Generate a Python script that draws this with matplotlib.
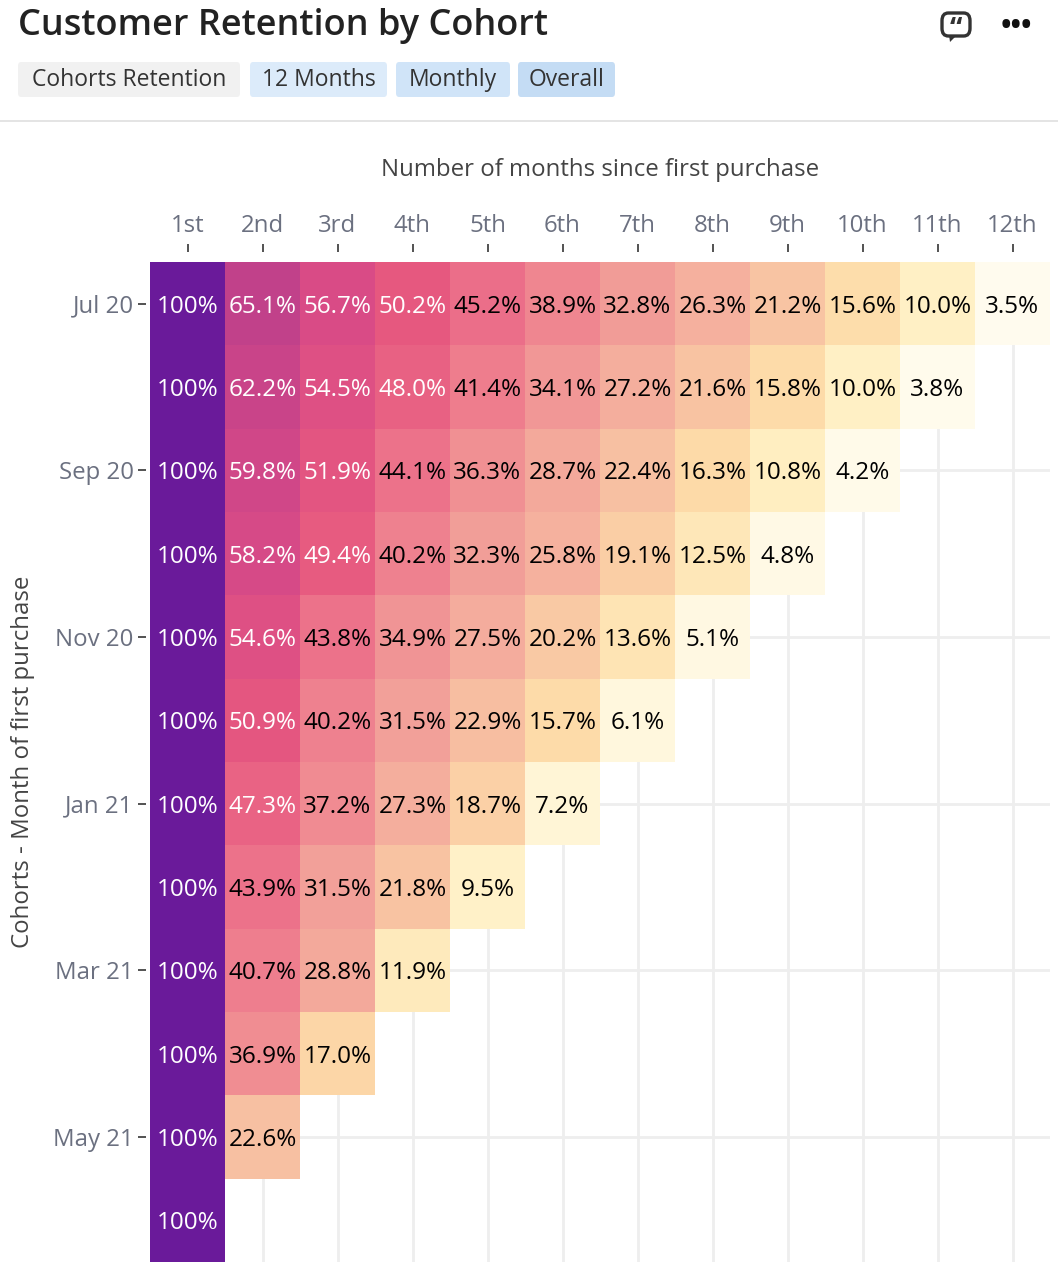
import numpy as np
import matplotlib.pyplot as plt
from matplotlib.colors import LinearSegmentedColormap
from matplotlib.patches import FancyBboxPatch, Rectangle, Polygon

plt.rcParams['font.family'] = ['Open Sans', 'DejaVu Sans']

# cohort labels and retention values (%)
cohorts = ["Jul 20", "Aug 20", "Sep 20", "Oct 20", "Nov 20", "Dec 20",
           "Jan 21", "Feb 21", "Mar 21", "Apr 21", "May 21", "Jun 21"]
months = ["1st", "2nd", "3rd", "4th", "5th", "6th",
          "7th", "8th", "9th", "10th", "11th", "12th"]

jul20 = [100, 65.1, 56.7, 50.2, 45.2, 38.9, 32.8, 26.3, 21.2, 15.6, 10.0, 3.5]
aug20 = [100, 62.2, 54.5, 48.0, 41.4, 34.1, 27.2, 21.6, 15.8, 10.0, 3.8]
sep20 = [100, 59.8, 51.9, 44.1, 36.3, 28.7, 22.4, 16.3, 10.8, 4.2]
oct20 = [100, 58.2, 49.4, 40.2, 32.3, 25.8, 19.1, 12.5, 4.8]
nov20 = [100, 54.6, 43.8, 34.9, 27.5, 20.2, 13.6, 5.1]
dec20 = [100, 50.9, 40.2, 31.5, 22.9, 15.7, 6.1]
jan21 = [100, 47.3, 37.2, 27.3, 18.7, 7.2]
feb21 = [100, 43.9, 31.5, 21.8, 9.5]
mar21 = [100, 40.7, 28.8, 11.9]
apr21 = [100, 36.9, 17.0]
may21 = [100, 22.6]
jun21 = [100]

rows = [jul20, aug20, sep20, oct20, nov20, dec20,
        jan21, feb21, mar21, apr21, may21, jun21]

n = len(months)
grid = np.full((len(rows), n), np.nan)
for i, r in enumerate(rows):
    grid[i, :len(r)] = r
data = np.ma.masked_invalid(grid)

# colour ramp sampled off the reference cells
cmap = LinearSegmentedColormap.from_list("retention", [
    (0.00, "#ffffff"), (0.035, "#fffbec"), (0.10, "#fff0c4"),
    (0.16, "#fddaa8"), (0.21, "#f8c5a3"), (0.26, "#f5b19e"),
    (0.33, "#f19b97"), (0.39, "#ef8590"), (0.45, "#eb6e89"),
    (0.50, "#e6587f"), (0.57, "#d94b86"), (0.65, "#c1418a"),
    (1.00, "#6a1a9a")])

W, H = 1058, 1282
fig = plt.figure(figsize=(W / 100, H / 100), dpi=100)

def fx(px):
    return px / W

def fy(py):
    return 1 - py / H

# header
fig.text(fx(18), fy(26), "Customer Retention by Cohort",
         fontsize=26, fontweight="semibold", color="#222222", va="center")
tags = [("Cohorts Retention", 18, 240, "#f1f1f1"),
        ("12 Months", 250, 387, "#dcebfa"),
        ("Monthly", 396, 510, "#d0e4f8"),
        ("Overall", 518, 615, "#c4dcf4")]
for label, x0, x1, bg in tags:
    fig.patches.append(FancyBboxPatch(
        (fx(x0), fy(97)), (x1 - x0) / W, 35 / H,
        boxstyle="round,pad=0,rounding_size=0.003", transform=fig.transFigure,
        facecolor=bg, edgecolor="none"))
    fig.text(fx((x0 + x1) / 2), fy(80), label, fontsize=16.5,
             color="#333333", ha="center", va="center")
fig.patches.append(Rectangle((0, fy(122)), 1, 2 / H,
                             transform=fig.transFigure, facecolor="#e4e4e4",
                             edgecolor="none"))

# icons top right
fig.patches.append(FancyBboxPatch(
    (fx(942), fy(36)), 28 / W, 23 / H,
    boxstyle="round,pad=0,rounding_size=0.006", transform=fig.transFigure,
    facecolor="white", edgecolor="#333333", linewidth=2.4))
fig.patches.append(Polygon([(fx(949), fy(35)), (fx(957), fy(35)),
                            (fx(950), fy(42))], closed=True,
                           transform=fig.transFigure, facecolor="#333333",
                           edgecolor="none"))
fig.text(fx(956), fy(30), "\u201c", fontsize=20, fontweight="bold",
         color="#333333", ha="center", va="center")
fig.text(fx(1016), fy(26), "\u2022\u2022\u2022", fontsize=20,
         fontweight="bold", color="#111111", ha="center", va="center")

# heatmap
ax = fig.add_axes([fx(150), fy(1262), 900 / W, 1000 / H])
x_edges = np.arange(n + 1)
y_edges = np.arange(len(rows) + 1)
ax.pcolormesh(x_edges, y_edges, data, cmap=cmap, vmin=0, vmax=100,
              zorder=2, edgecolor="none")
ax.set_xlim(0, n)
ax.set_ylim(len(rows), 0)

for i, r in enumerate(rows):
    for j, v in enumerate(r):
        txt = "100%" if v == 100 else f"{v:.1f}%"
        col = "white" if v >= 46 else "black"
        ax.text(j + 0.5, i + 0.5, txt, ha="center", va="center_baseline",
                fontsize=17.5, color=col, zorder=3)

ax.xaxis.tick_top()
ax.xaxis.set_label_position("top")
ax.set_xticks(np.arange(n) + 0.5)
ax.set_xticklabels(months)
ylab_idx = np.arange(0, len(rows), 2)
ax.set_yticks(ylab_idx + 0.5)
ax.set_yticklabels([cohorts[i] for i in ylab_idx])
ax.tick_params(axis="both", labelsize=17.3, labelcolor="#6b7080",
               color="#444444", length=5.8, width=1.3, direction="out")
ax.tick_params(axis="x", pad=4)
ax.tick_params(axis="y", pad=3)
for s in ax.spines.values():
    s.set_visible(False)
ax.spines["top"].set_position(("outward", 7.2))
ax.spines["left"].set_position(("outward", 3))

ax.set_xlabel("Number of months since first purchase", fontsize=17.3,
              color="#444444", labelpad=28)
ax.set_ylabel("Cohorts - Month of first purchase", fontsize=17.3,
              color="#444444", labelpad=13)
ax.grid(True, color="#eeeeee", linewidth=2, zorder=0)
ax.set_axisbelow(True)

fig.savefig("out.png", dpi=100)
